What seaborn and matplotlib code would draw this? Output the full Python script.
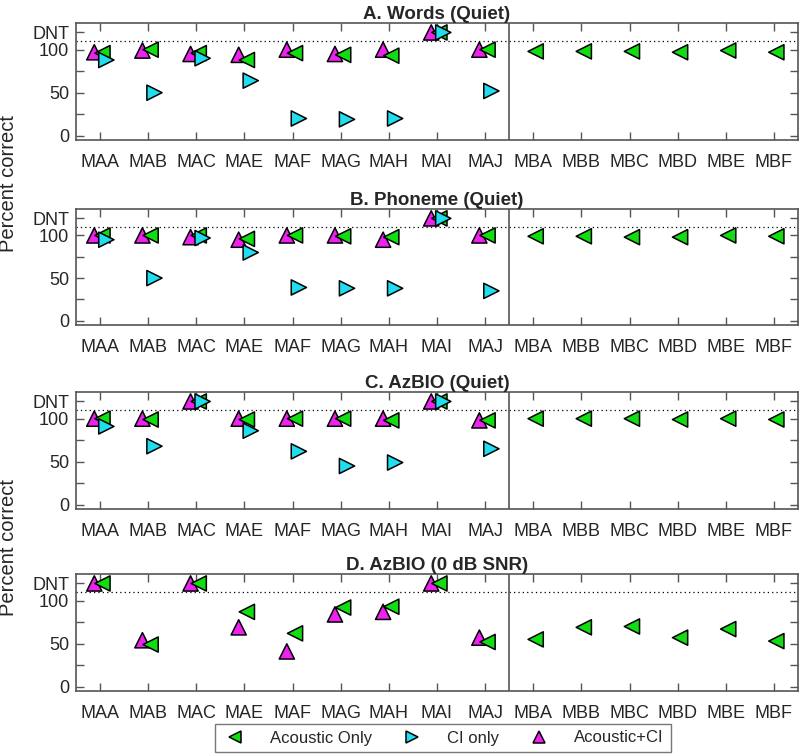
import numpy as np
import pandas as pd
import matplotlib
matplotlib.use("Agg")
import matplotlib.pyplot as plt
import seaborn as sns

sns.set_style("ticks")
plt.rcParams["font.family"] = ["Liberation Sans", "DejaVu Sans"]
plt.rcParams["font.size"] = 11

DNT = 120  # "did not test" row plotted above the 0-100 scale
NA = np.nan

subjects = ["MAA", "MAB", "MAC", "MAE", "MAF", "MAG", "MAH", "MAI", "MAJ",
            "MBA", "MBB", "MBC", "MBD", "MBE", "MBF"]
conditions = ["Acoustic Only", "CI only", "Acoustic+CI"]
panel_titles = ["A. Words (Quiet)", "B. Phoneme (Quiet)",
                "C. AzBIO (Quiet)", "D. AzBIO (0 dB SNR)"]

# A. Words (Quiet)
words_acoustic = [96, 100, 96, 88, 96, 94, 93, DNT, 100, 98, 98, 98, 97, 99, 97]
words_ci = [88, 50, 90, 64, 20, 19, 20, DNT, 52, NA, NA, NA, NA, NA, NA]
words_bimodal = [97, 99, 95, 94, 100, 95, 100, DNT, 100, NA, NA, NA, NA, NA, NA]

# B. Phoneme (Quiet)
phoneme_acoustic = [100, 100, 100, 96, 100, 99, 98, DNT, 100, 99, 99, 98, 98, 100, 99]
phoneme_ci = [95, 50, 97, 80, 39, 38, 38, DNT, 35, NA, NA, NA, NA, NA, NA]
phoneme_bimodal = [100, 100, 98, 95, 100, 100, 95, DNT, 100, NA, NA, NA, NA, NA, NA]

# C. AzBIO (Quiet)
azbio_acoustic = [100, 99, DNT, 99, 100, 100, 98, DNT, 98, 100, 100, 100, 99, 100, 99]
azbio_ci = [91, 68, DNT, 86, 62, 45, 49, DNT, 65, NA, NA, NA, NA, NA, NA]
azbio_bimodal = [100, 100, DNT, 100, 100, 100, 100, DNT, 98, NA, NA, NA, NA, NA, NA]

# D. AzBIO (0 dB SNR) - no CI-only scores
snr_acoustic = [DNT, 49, DNT, 87, 62, 92, 93, DNT, 52, 55, 69, 70, 57, 67, 53]
snr_ci = [NA] * 15
snr_bimodal = [DNT, 54, DNT, 69, 41, 84, 87, DNT, 57, NA, NA, NA, NA, NA, NA]

panels = [
    (words_acoustic, words_ci, words_bimodal),
    (phoneme_acoustic, phoneme_ci, phoneme_bimodal),
    (azbio_acoustic, azbio_ci, azbio_bimodal),
    (snr_acoustic, snr_ci, snr_bimodal),
]

palette = {"Acoustic Only": "#11dd11", "CI only": "#22ddee", "Acoustic+CI": "#ee22ee"}
markers = {"Acoustic Only": "<", "CI only": ">", "Acoustic+CI": "^"}
dodge = {"Acoustic Only": 0.05, "CI only": 0.13, "Acoustic+CI": -0.12}
draw_order = ["Acoustic+CI", "Acoustic Only", "CI only"]

W, H = 800, 755
fig = plt.figure(figsize=(W / 100, H / 100), dpi=100)
axes_px = [(23, 140), (209, 325), (392, 509), (574, 691)]
left, right = 76, 798

frame_color = "#555555"

for i, (vals, (top, bot)) in enumerate(zip(panels, axes_px)):
    ax = fig.add_axes([left / W, 1 - bot / H, (right - left) / W, (bot - top) / H])
    series = dict(zip(conditions, vals))
    rows = []
    for cond in draw_order:
        for j, v in enumerate(series[cond]):
            rows.append({"pos": j + dodge[cond], "score": v, "condition": cond})
    df = pd.DataFrame(rows).dropna()
    sns.scatterplot(data=df, x="pos", y="score", hue="condition", style="condition",
                    hue_order=conditions, style_order=conditions,
                    palette=palette, markers=markers, s=120,
                    edgecolor="black", linewidth=1.1, legend=False, ax=ax, zorder=3)

    ax.axhline(110, color="black", linestyle=(0, (1, 2.5)), linewidth=0.9, zorder=1)
    ax.axvline(8.5, color=frame_color, linewidth=1.2, zorder=1)

    ax.set_xlim(-0.5, len(subjects) - 0.5)
    ax.set_ylim(-5, 131)
    ax.set_xticks(range(len(subjects)))
    ax.set_xticklabels(subjects)
    ax.set_yticks([0, 25, 50, 75, 100, 120])
    ax.set_yticklabels(["0", "", "50", "", "100", "DNT"])
    ax.tick_params(axis="both", direction="in", length=6, width=1, color=frame_color,
                   top=True, right=True, labelsize=13, pad=10)
    ax.tick_params(axis="y", pad=5)
    ax.set_xlabel("")
    ax.set_ylabel("")
    for sp in ax.spines.values():
        sp.set_color(frame_color)
        sp.set_linewidth(1.2)
    ax.set_title(panel_titles[i], fontweight="bold", fontsize=13.5, pad=3)

handles = [plt.Line2D([], [], linestyle="none", marker=markers[c], markersize=9,
                      markerfacecolor=palette[c], markeredgecolor="black",
                      markeredgewidth=1.1) for c in conditions]
leg = fig.legend(handles, conditions, loc="center", ncol=3,
                 bbox_to_anchor=(443 / W, 1 - 738 / H),
                 frameon=True, fancybox=False, edgecolor=frame_color,
                 fontsize=12, handletextpad=1.3, columnspacing=1.6,
                 borderpad=0.4, handlelength=1.6)
leg.get_frame().set_linewidth(1.0)

fig.text(9 / W, 1 - 183 / H, "Percent correct", rotation=90, ha="center", va="center", fontsize=14.5)
fig.text(9 / W, 1 - 548 / H, "Percent correct", rotation=90, ha="center", va="center", fontsize=14.5)

fig.savefig("out.png", dpi=100)
